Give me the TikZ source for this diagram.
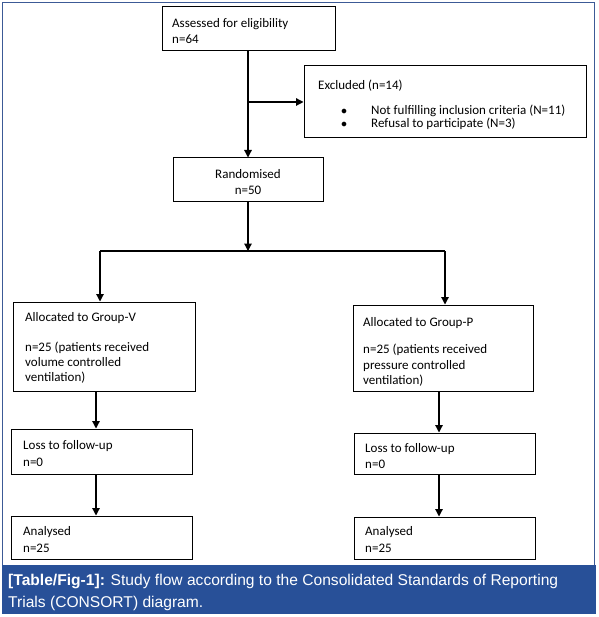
\documentclass[tikz,border=0pt]{standalone}
\usepackage{fontspec}
\setmainfont{Carlito}
\newfontfamily\capfont{Liberation Sans}
\usetikzlibrary{arrows.meta,calc}
\definecolor{bandblue}{RGB}{40,80,152}
\definecolor{framecol}{RGB}{60,90,150}
\newcommand\mystrut{\rule{0pt}{11pt}}
\begin{document}
\begin{tikzpicture}[x=1pt,y=-1pt,
  box/.style={draw=black,line width=1pt,inner sep=0pt},
  txt/.style={inner sep=0pt,anchor=north west,align=left,font=\fontsize{13}{16}\selectfont},
  conn/.style={line width=1.2pt,draw=black},
  arr/.style={conn,-{Triangle[width=7.5pt,length=7.5pt]}}]
\useasboundingbox (0,0) rectangle (598,617);
% frame and caption band
\draw[framecol,line width=0.8pt] (2.5,565) -- (2.5,2.5) -- (594.5,2.5) -- (594.5,565);
\fill[bandblue] (2,565) rectangle (596,614);
\node[inner sep=0pt,anchor=north west,align=left,text=white,
  font=\capfont\fontsize{15.6}{22}\selectfont] (cap) at (8,574)
  {\rule{0pt}{11pt}\textbf{[Table/Fig-1]:} Study flow according to the Consolidated Standards of Reporting\\Trials (CONSORT) diagram.};
% boxes
\node[box,minimum width=173pt,minimum height=44pt] (A) at (248.5,29) {};
\node[box,minimum width=282pt,minimum height=72pt] (E) at (445,102) {};
\node[box,minimum width=150pt,minimum height=44pt] (R) at (248,180) {};
\node[box,minimum width=182pt,minimum height=89pt] (V) at (104,346.5) {};
\node[box,minimum width=180pt,minimum height=86pt] (P) at (443,348) {};
\node[box,minimum width=181pt,minimum height=45pt] (LV) at (101.5,451.5) {};
\node[box,minimum width=181pt,minimum height=41pt] (LP) at (444.5,453.5) {};
\node[box,minimum width=181pt,minimum height=43pt] (AV) at (101.5,537.5) {};
\node[box,minimum width=181pt,minimum height=42pt] (AP) at (444.5,538) {};
% texts
\node[txt] (At) at (172,16) {\mystrut Assessed for eligibility\\n=64};
\node[txt] (Et) at (318,78) {\mystrut Excluded (n=14)};
\node[txt,font=\fontsize{13}{13}\selectfont] (Eb) at (341,103)
  {\mystrut$\bullet$\hspace{24pt}Not fulfilling inclusion criteria (N=11)\\
   $\bullet$\hspace{24pt}Refusal to participate (N=3)};
\node[txt,align=center,anchor=north] (Rt) at (248,167) {\mystrut Randomised\\n=50};
\node[txt,font=\fontsize{13}{15}\selectfont] (Vt) at (25,310)
  {\mystrut Allocated to Group-V\\[15pt]n=25 (patients received\\volume controlled\\ventilation)};
\node[txt,font=\fontsize{13}{15.5}\selectfont] (Pt) at (363,315)
  {\mystrut Allocated to Group-P\\[12pt]n=25 (patients received\\pressure controlled\\ventilation)};
\node[txt,font=\fontsize{13}{17}\selectfont] (LVt) at (23,438) {\mystrut Loss to follow-up\\n=0};
\node[txt,font=\fontsize{13}{16}\selectfont] (LPt) at (365,441) {\mystrut Loss to follow-up\\n=0};
\node[txt,font=\fontsize{13}{17}\selectfont] (AVt) at (23,524) {\mystrut Analysed\\n=25};
\node[txt,font=\fontsize{13}{17}\selectfont] (APt) at (365,524) {\mystrut Analysed\\n=25};
% connectors
\coordinate (b1) at (248,102);
\coordinate (j) at (248,251);
\coordinate (jl) at (100,251);
\coordinate (jr) at (445,251);
\draw[arr] (A.south -| b1) -- (R.north -| b1);
\draw[arr] (b1) -- (E.west);
\draw[arr] (R.south -| j) -- (j);
\draw[conn] (jl) -- (jr);
\draw[arr] (jl) -- (V.north -| jl);
\draw[arr] (jr) -- (P.north -| jr);
\coordinate (xv) at (96,0);
\coordinate (xp) at (439,0);
\draw[arr] (V.south -| xv) -- (LV.north -| xv);
\draw[arr] (LV.south -| xv) -- (AV.north -| xv);
\draw[arr] (P.south -| xp) -- (LP.north -| xp);
\draw[arr] (LP.south -| xp) -- (AP.north -| xp);
\end{tikzpicture}
\end{document}
